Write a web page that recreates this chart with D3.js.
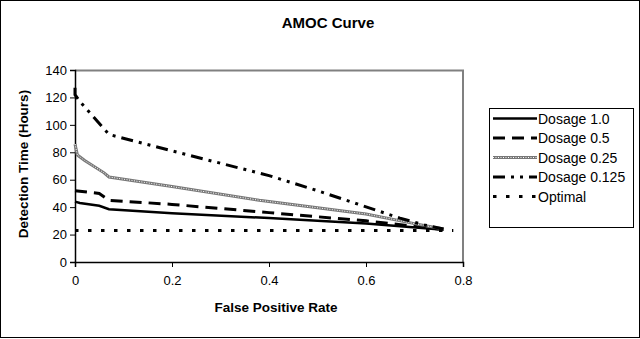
<!DOCTYPE html>
<html>
<head>
<meta charset="utf-8">
<script src="https://cdn.jsdelivr.net/npm/d3@7"></script>
<style>
  body { margin: 0; background: #fff; }
  text { font-family: "Liberation Sans", Arial, sans-serif; }
</style>
</head>
<body>
<div id="chart"></div>
<script>
// data
const seriesNames = ["Dosage 1.0", "Dosage 0.5", "Dosage 0.25", "Dosage 0.125", "Optimal"];
const fpr10 = [0, 0.01, 0.05, 0.07, 0.2, 0.4, 0.6, 0.76];
const det10 = [44, 43, 41, 38.5, 35.5, 32, 28, 23.5];
const fpr05 = [0, 0.05, 0.07, 0.2, 0.4, 0.6, 0.75];
const det05 = [52, 50, 45, 42, 36, 30, 24];
const fpr025 = [0, 0.005, 0.02, 0.06, 0.07, 0.2, 0.38, 0.6, 0.7, 0.76];
const det025 = [86, 78, 74, 65, 62, 55, 45, 35, 28, 24];
const fpr0125 = [0, 0, 0.01, 0.07, 0.2, 0.4, 0.5, 0.67, 0.72, 0.76];
const det0125 = [127, 122, 117, 93, 81, 63, 52, 32, 27, 24];
const fprOpt = [0, 0.78];
const detOpt = [23, 23];
const xTicks = [0, 0.2, 0.4, 0.6, 0.8];
const yTicks = [0, 20, 40, 60, 80, 100, 120, 140];

const W = 640, H = 339;
const margin = {top: 70, left: 75};
const width = 388, height = 192;

const svg = d3.select("#chart").append("svg")
    .attr("width", W).attr("height", H);

// outer frame
svg.append("rect").attr("x", 0.5).attr("y", 0.5)
    .attr("width", W - 1).attr("height", H - 2)
    .attr("fill", "#fff").attr("stroke", "#000");

const g = svg.append("g").attr("transform", `translate(${margin.left},${margin.top})`);

const x = d3.scaleLinear().domain([0, 0.8]).range([0, width]);
const y = d3.scaleLinear().domain([0, 140]).range([height, 0]);

// gray plot border (top + right)
g.append("path")
    .attr("d", `M0,0.5H${width}V${height}`)
    .attr("fill", "none").attr("stroke", "#808080").attr("stroke-width", 2);

const xAxis = g.append("g").attr("transform", `translate(0,${height})`)
    .call(d3.axisBottom(x).tickValues(xTicks).tickSize(5).tickPadding(9)
        .tickFormat(d => d === 0 ? "0" : d3.format(".1f")(d)));
const yAxis = g.append("g")
    .call(d3.axisLeft(y).tickValues(yTicks).tickSize(5).tickPadding(3));
[xAxis, yAxis].forEach(a => {
  a.select(".domain").attr("stroke", "#000").attr("stroke-width", 1.5);
  a.selectAll(".tick line").attr("stroke", "#000");
  a.selectAll("text").attr("font-size", 13).attr("fill", "#000")
      .attr("font-family", "Liberation Sans, Arial, sans-serif");
});

const line = d3.line().x(d => x(d[0])).y(d => y(d[1]));
const pts = (xs, ys) => xs.map((v, i) => [v, ys[i]]);

const styles = [
  {data: pts(fpr10, det10), stroke: "#000", w: 2.5, dash: null},
  {data: pts(fpr05, det05), stroke: "#000", w: 3, dash: "12,7"},
  {data: pts(fpr025, det025), stroke: "#777", w: 3, dash: null, texture: true},
  {data: pts(fpr0125, det0125), stroke: "#000", w: 3, dash: "12,6,3,6,3,6"},
  {data: pts(fprOpt, detOpt), stroke: "#000", w: 3, dash: "3.5,9.5"}
];

styles.forEach(s => {
  g.append("path").datum(s.data).attr("d", line)
      .attr("fill", "none").attr("stroke", s.stroke)
      .attr("stroke-width", s.w).attr("stroke-dasharray", s.dash);
  if (s.texture) {
    g.append("path").datum(s.data).attr("d", line)
        .attr("fill", "none").attr("stroke", "#fff")
        .attr("stroke-width", 1).attr("stroke-dasharray", "1,1.5");
  }
});

// titles
svg.append("text").attr("x", 328).attr("y", 28).attr("text-anchor", "middle")
    .attr("font-size", 15).attr("font-weight", "bold").text("AMOC Curve");
svg.append("text").attr("x", 276).attr("y", 312).attr("text-anchor", "middle")
    .attr("font-size", 13.5).attr("font-weight", "bold").text("False Positive Rate");
svg.append("text").attr("transform", `translate(28,${margin.top + height / 2 - 2}) rotate(-90)`)
    .attr("text-anchor", "middle")
    .attr("font-size", 13.5).attr("font-weight", "bold").text("Detection Time (Hours)");

// legend
const lg = svg.append("g").attr("transform", "translate(489,108)");
lg.append("rect").attr("x", 0.5).attr("y", 0.5).attr("width", 144).attr("height", 119)
    .attr("fill", "#fff").attr("stroke", "#000");
seriesNames.forEach((name, i) => {
  const s = styles[i];
  const yy = 10.5 + i * 19.5;
  lg.append("line").attr("x1", 4).attr("x2", 48).attr("y1", yy).attr("y2", yy)
      .attr("stroke", s.stroke).attr("stroke-width", s.w).attr("stroke-dasharray", s.dash);
  if (s.texture) {
    lg.append("line").attr("x1", 4).attr("x2", 48).attr("y1", yy).attr("y2", yy)
        .attr("stroke", "#fff").attr("stroke-width", 1).attr("stroke-dasharray", "1,1.5");
  }
  lg.append("text").attr("x", 49).attr("y", yy + 5).attr("font-size", 14).text(name);
});
</script>
</body>
</html>
